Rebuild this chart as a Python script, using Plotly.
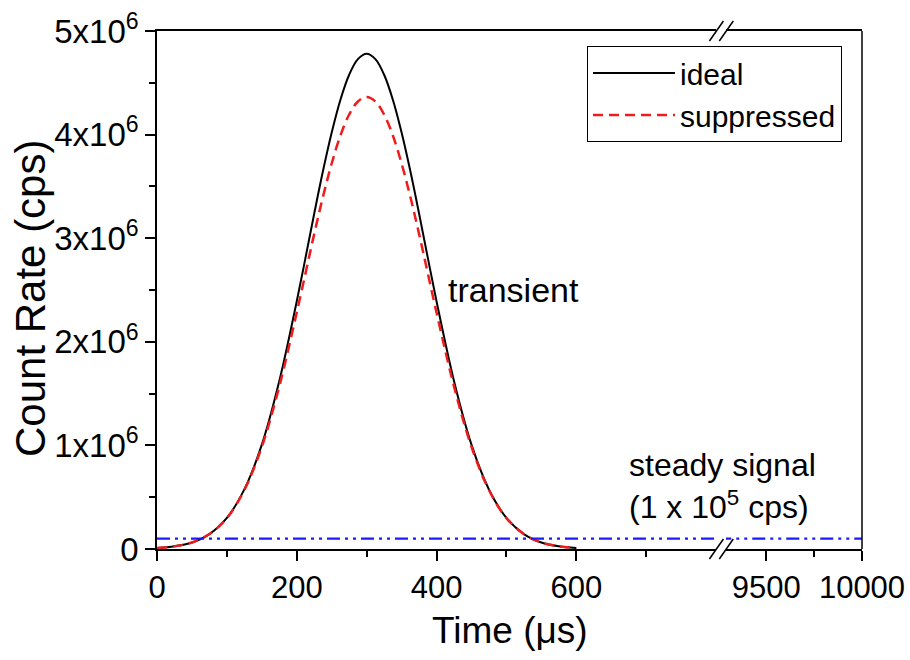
import plotly.graph_objects as go

# ---- data ----
time_us = [0, 25, 50, 75, 100, 125, 150, 175, 200, 225, 237.5, 250, 262.5, 275, 287.5, 300,
           312.5, 325, 337.5, 350, 362.5, 375, 400, 425, 450, 475, 500, 525, 550, 575, 600]
ideal = [0.009e6, 0.026e6, 0.063e6, 0.144e6, 0.300e6, 0.575e6, 1.007e6, 1.621e6,
         2.392e6, 3.239e6, 3.648e6, 4.020e6, 4.337e6, 4.578e6, 4.728e6, 4.780e6,
         4.728e6, 4.578e6, 4.337e6, 4.020e6, 3.648e6, 3.239e6,
         2.392e6, 1.621e6, 1.007e6, 0.575e6, 0.300e6, 0.144e6, 0.063e6, 0.026e6, 0.009e6]
suppressed = [0.009e6, 0.026e6, 0.063e6, 0.144e6, 0.298e6, 0.569e6, 0.987e6, 1.570e6,
              2.283e6, 3.042e6, 3.400e6, 3.721e6, 3.991e6, 4.194e6, 4.320e6, 4.363e6,
              4.320e6, 4.194e6, 3.991e6, 3.721e6, 3.400e6, 3.042e6,
              2.283e6, 1.570e6, 0.987e6, 0.569e6, 0.298e6, 0.144e6, 0.063e6, 0.026e6, 0.009e6]
steady_t_left = [0, 800]
steady_t_right = [9250, 10000]
steady_level = 1e5

y_tickvals = [0, 1e6, 2e6, 3e6, 4e6, 5e6]
y_ticktext = ["0", "1x10<sup>6</sup>", "2x10<sup>6</sup>", "3x10<sup>6</sup>",
              "4x10<sup>6</sup>", "5x10<sup>6</sup>"]
x_left_ticks = [0, 200, 400, 600]
x_left_text = ["0", "200", "400", "600"]
x_right_ticks = [9500, 10000]
x_right_text = ["9500", "10000"]

FONT = "Liberation Sans, Arial, sans-serif"

fig = go.Figure()
fig.add_trace(go.Scatter(x=time_us, y=ideal, mode="lines", name="ideal",
                         line=dict(color="black", width=2, shape="spline"),
                         xaxis="x", yaxis="y"))
fig.add_trace(go.Scatter(x=time_us, y=suppressed, mode="lines", name="suppressed",
                         line=dict(color="#ee1c1c", width=2.5, dash="10px,6px", shape="spline"),
                         xaxis="x", yaxis="y"))
blue = dict(color="#1a1aff", width=2.2, dash="13px,5px,3px,5px,3px,5px")
fig.add_trace(go.Scatter(x=steady_t_left, y=[steady_level] * 2, mode="lines",
                         line=blue, showlegend=False, xaxis="x", yaxis="y"))
fig.add_trace(go.Scatter(x=steady_t_right, y=[steady_level] * 2, mode="lines",
                         line=blue, showlegend=False, xaxis="x2", yaxis="y"))

axis_common = dict(showline=True, linecolor="black", linewidth=1.5,
                   ticks="outside", ticklen=10, tickwidth=1.5, tickcolor="black",
                   showgrid=False, zeroline=False, automargin=False)

fig.update_layout(
    width=910, height=660,
    margin=dict(l=157, r=48, t=31, b=111),
    paper_bgcolor="white", plot_bgcolor="white",
    font=dict(family=FONT, color="black"),
    xaxis=dict(domain=[0, 0.793], range=[0, 800], tickvals=x_left_ticks, ticktext=x_left_text,
               mirror=True, tickfont=dict(size=31, color="black", family=FONT),
               minor=dict(tickvals=[100, 300, 500, 700], ticks="outside", ticklen=6,
                          tickwidth=1.5, tickcolor="black"),
               anchor="y", **axis_common),
    xaxis2=dict(domain=[0.807, 1], range=[9290, 10000], tickvals=x_right_ticks,
                ticktext=x_right_text, mirror=True,
                tickfont=dict(size=31, color="black", family=FONT),
                minor=dict(tickvals=[9750], ticks="outside", ticklen=6,
                           tickwidth=1.5, tickcolor="black"),
                anchor="y", **axis_common),
    yaxis=dict(range=[0, 5e6], tickvals=y_tickvals, ticktext=y_ticktext, mirror=False,
               tickfont=dict(size=33, color="black", family=FONT),
               minor=dict(tickvals=[0.5e6, 1.5e6, 2.5e6, 3.5e6, 4.5e6], ticks="outside",
                          ticklen=6, tickwidth=1.5, tickcolor="black"),
               **axis_common),
    legend=dict(x=0.9716, y=0.971, xanchor="right", yanchor="top",
                bgcolor="white", bordercolor="black", borderwidth=1,
                font=dict(size=30, family=FONT, color="black"),
                tracegroupgap=0, itemwidth=82),
    showlegend=True,
)

# right frame edge
fig.add_shape(type="line", xref="paper", yref="paper", x0=1, x1=1, y0=0, y1=1,
              line=dict(color="black", width=1.5))

# axis-break marks (//) on top and bottom
W, H = 705.0, 518.0
for yc in (0.0, 1.0):
    for xc in (0.7935, 0.8075):
        fig.add_shape(type="line", xref="paper", yref="paper",
                      x0=xc - 7 / W, x1=xc + 7 / W,
                      y0=yc - 10 / H, y1=yc + 10 / H,
                      line=dict(color="black", width=1.5))

fig.add_annotation(text="Count Rate (cps)", xref="paper", yref="paper",
                   x=(30 - 157) / W, y=(549 - 299) / H, xanchor="center", yanchor="middle",
                   textangle=-90, showarrow=False,
                   font=dict(size=42, family=FONT, color="black"))
fig.add_annotation(text="transient", xref="paper", yref="paper",
                   x=(446 - 157) / W, y=(549 - 290) / H, xanchor="left", yanchor="middle",
                   showarrow=False, font=dict(size=34, family=FONT, color="black"))
fig.add_annotation(text="steady signal", xref="paper", yref="paper",
                   x=(627 - 157) / W, y=(549 - 465) / H, xanchor="left", yanchor="middle",
                   showarrow=False, font=dict(size=32, family=FONT, color="black"))
fig.add_annotation(text="(1 x 10<sup>5</sup> cps)", xref="paper", yref="paper",
                   x=(627 - 157) / W, y=(549 - 505) / H, xanchor="left", yanchor="middle",
                   showarrow=False, font=dict(size=32, family=FONT, color="black"))
fig.add_annotation(text="Time (μs)", xref="paper", yref="paper",
                   x=(510 - 157) / W, y=(549 - 630) / H, xanchor="center", yanchor="middle",
                   showarrow=False, font=dict(size=37, family=FONT, color="black"))

fig.write_html("out.html")
